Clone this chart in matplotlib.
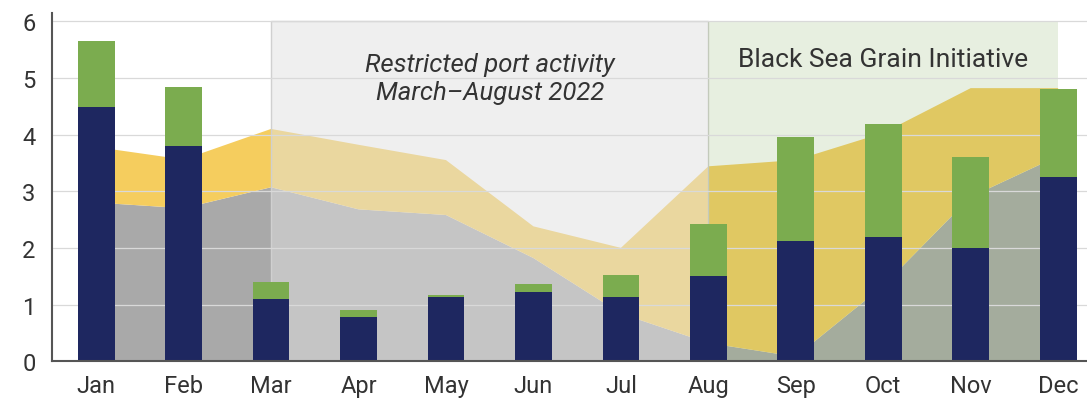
import matplotlib
matplotlib.use("Agg")
import matplotlib.pyplot as plt
from matplotlib.patches import Rectangle
import numpy as np

plt.rcParams['font.family'] = ['Roboto', 'DejaVu Sans']

months = ["Jan", "Feb", "Mar", "Apr", "May", "Jun",
          "Jul", "Aug", "Sep", "Oct", "Nov", "Dec"]

# bars (stacked): navy base, green on top
bar_navy = [4.48, 3.79, 1.09, 0.78, 1.13, 1.22, 1.13, 1.50, 2.13, 2.19, 1.99, 3.25]
bar_green = [1.17, 1.05, 0.30, 0.12, 0.03, 0.14, 0.39, 0.92, 1.82, 1.99, 1.61, 1.55]

# background areas (stacked): gray base, yellow on top
area_gray = [2.80, 2.70, 3.07, 2.68, 2.58, 1.82, 0.84, 0.32, 0.08, 1.33, 2.90, 3.62]
area_yellow = [0.98, 0.86, 1.03, 1.14, 0.97, 0.56, 1.16, 3.12, 3.47, 2.70, 1.92, 1.20]

y_ticks = [0, 1, 2, 3, 4, 5, 6]

navy = "#1e2760"
green = "#7bac4f"
yellow = "#f5cd5e"
gray = "#a9a9a9"
txt = "#333333"

fig = plt.figure(figsize=(10.87, 4.06), dpi=100)
ax = fig.add_axes([0.048, 0.108, 0.952, 0.858])

x = np.arange(len(months))

ax.stackplot(x, area_gray, area_yellow, colors=[gray, yellow], lw=0, zorder=1)

# shaded periods
ax.add_patch(Rectangle((2, 0), 5, 6, facecolor="#e1e1e1", alpha=0.5,
                       edgecolor="none", zorder=2))
ax.add_patch(Rectangle((2, 0), 5, 6, facecolor="none", edgecolor="#d0d0d0",
                       lw=1, zorder=2))
ax.add_patch(Rectangle((7, 0), 4, 6, facecolor="#96b973", alpha=0.22,
                       edgecolor="none", zorder=2))

for t in y_ticks[1:]:
    ax.axhline(t, color="#d9d9d9", lw=0.9, zorder=2.5)

ax.bar(x, bar_navy, width=0.42, color=navy, zorder=3)
ax.bar(x, bar_green, width=0.42, bottom=bar_navy, color=green, zorder=3)

ax.text(4.5, 5.0, "Restricted port activity\nMarch\u2013August 2022",
        ha="center", va="center", fontsize=18.5, style="italic", color=txt,
        linespacing=1.2, zorder=4)
ax.text(9.0, 5.33, "Black Sea Grain Initiative", ha="center", va="center",
        fontsize=19, color=txt, zorder=4)

ax.set_xlim(-0.503, 11.33)
ax.set_ylim(0, 6.15)
ax.set_xticks(x)
ax.set_xticklabels(months, fontsize=17, color=txt)
ax.set_yticks(y_ticks)
ax.set_yticklabels([str(t) for t in y_ticks], fontsize=17, color=txt)
ax.tick_params(length=0, pad=9)
ax.tick_params(axis="y", pad=12)

for s in ["top", "right"]:
    ax.spines[s].set_visible(False)
for s in ["left", "bottom"]:
    ax.spines[s].set_color("#555555")
    ax.spines[s].set_linewidth(1.5)
    ax.spines[s].set_zorder(5)

fig.savefig("out.png", dpi=100)
